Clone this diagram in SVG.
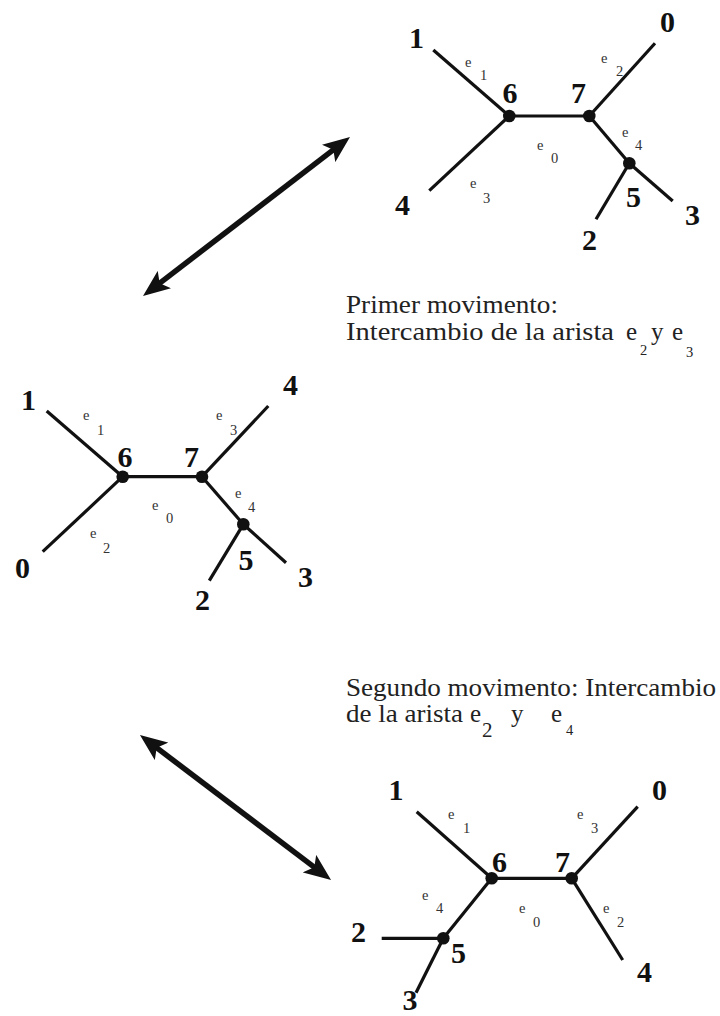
<svg xmlns="http://www.w3.org/2000/svg" width="720" height="1016" viewBox="0 0 720 1016">
<style>
.edge{stroke:#111;stroke-width:3.2;fill:none;stroke-linecap:butt}
.dot{fill:#111}
.num{font-family:"Liberation Serif","Times New Roman",Tinos,serif;font-weight:bold;font-size:30px;fill:#111;text-anchor:middle}
.el{font-family:"Liberation Serif","Times New Roman",Tinos,serif;font-size:14.5px;fill:#333}
.cap{font-family:"Liberation Serif","Times New Roman",Tinos,serif;font-size:25px;fill:#222}
.sub{font-family:"Liberation Serif","Times New Roman",Tinos,serif;font-size:14.5px;fill:#222}
.arr{stroke:#111;stroke-width:5.5;fill:none}
</style>
<defs>
<marker id="ah" markerUnits="userSpaceOnUse" markerWidth="27" markerHeight="22" viewBox="0 0 27 22" refX="12" refY="11" orient="auto-start-reverse">
<path d="M0,0 L27,11 L0,22 L6,11 Z" fill="#111"/>
</marker>
</defs>
<rect width="720" height="1016" fill="#fff"/>

<g id="connectors">
<!-- top tree -->
<line class="edge" x1="509.3" y1="116" x2="433.3" y2="50"/>
<line class="edge" x1="509.3" y1="116" x2="429.3" y2="190.7"/>
<line class="edge" x1="509.3" y1="116" x2="589.3" y2="116"/>
<line class="edge" x1="589.3" y1="116" x2="655" y2="43.3"/>
<line class="edge" x1="589.3" y1="116" x2="629.3" y2="163.3"/>
<line class="edge" x1="629.3" y1="163.3" x2="672.7" y2="201"/>
<line class="edge" x1="629.3" y1="163.3" x2="596" y2="219.3"/>
<!-- middle tree -->
<line class="edge" x1="122.7" y1="476.7" x2="46.7" y2="411"/>
<line class="edge" x1="122.7" y1="476.7" x2="42.7" y2="551.7"/>
<line class="edge" x1="122.7" y1="476.7" x2="202" y2="476.7"/>
<line class="edge" x1="202" y1="476.7" x2="268.3" y2="406"/>
<line class="edge" x1="202" y1="476.7" x2="243.3" y2="524.3"/>
<line class="edge" x1="243.3" y1="524.3" x2="286" y2="562.7"/>
<line class="edge" x1="243.3" y1="524.3" x2="209.3" y2="580.7"/>
<!-- bottom tree -->
<line class="edge" x1="491.7" y1="878.3" x2="416.7" y2="811.7"/>
<line class="edge" x1="491.7" y1="878.3" x2="571.7" y2="878.3"/>
<line class="edge" x1="571.7" y1="878.3" x2="637.7" y2="806.7"/>
<line class="edge" x1="571.7" y1="878.3" x2="622.7" y2="960"/>
<line class="edge" x1="491.7" y1="878.3" x2="443.3" y2="938.3"/>
<line class="edge" x1="443.3" y1="938.3" x2="381.7" y2="938.3"/>
<line class="edge" x1="443.3" y1="938.3" x2="416" y2="992.7"/>
<!-- move arrows -->
<line class="arr" x1="154.9" y1="286.9" x2="338.1" y2="146.1" marker-start="url(#ah)" marker-end="url(#ah)"/>
<line class="arr" x1="151.9" y1="744.1" x2="319.1" y2="870.9" marker-start="url(#ah)" marker-end="url(#ah)"/>
</g>

<!-- Top tree -->
<g id="tree-top">
<g id="top-n6"><circle class="dot" cx="509.3" cy="116" r="6.3"/><text class="num" x="510" y="103">6</text></g>
<g id="top-n7"><circle class="dot" cx="589.3" cy="116" r="6.3"/><text class="num" x="578.5" y="103">7</text></g>
<g id="top-n5"><circle class="dot" cx="629.3" cy="163.3" r="6.3"/><text class="num" x="633.5" y="207">5</text></g>
<g id="top-n1"><text class="num" x="416.5" y="48">1</text></g>
<g id="top-n0"><text class="num" x="667.5" y="32">0</text></g>
<g id="top-n4"><text class="num" x="402.5" y="215">4</text></g>
<g id="top-n3"><text class="num" x="692.5" y="225">3</text></g>
<g id="top-n2"><text class="num" x="589.5" y="250">2</text></g>
<g id="top-edge-labels">
<text class="el" x="465" y="67">e<tspan x="480" y="80">1</tspan></text>
<text class="el" x="601" y="63">e<tspan x="616" y="76">2</tspan></text>
<text class="el" x="622" y="137">e<tspan x="635" y="150">4</tspan></text>
<text class="el" x="537" y="150">e<tspan x="551" y="163">0</tspan></text>
<text class="el" x="470" y="188">e<tspan x="483" y="203">3</tspan></text>
</g>
</g>

<!-- Middle tree -->
<g id="tree-mid">
<g id="mid-n6"><circle class="dot" cx="122.7" cy="476.7" r="6.3"/><text class="num" x="125" y="467">6</text></g>
<g id="mid-n7"><circle class="dot" cx="202" cy="476.7" r="6.3"/><text class="num" x="191.5" y="467">7</text></g>
<g id="mid-n5"><circle class="dot" cx="243.3" cy="524.3" r="6.3"/><text class="num" x="246" y="570">5</text></g>
<g id="mid-n1"><text class="num" x="28.5" y="410">1</text></g>
<g id="mid-n0"><text class="num" x="22.5" y="578">0</text></g>
<g id="mid-n4"><text class="num" x="290.5" y="395">4</text></g>
<g id="mid-n3"><text class="num" x="305.5" y="587">3</text></g>
<g id="mid-n2"><text class="num" x="202.5" y="610">2</text></g>
<g id="mid-edge-labels">
<text class="el" x="83" y="420">e<tspan x="97" y="435">1</tspan></text>
<text class="el" x="216" y="420">e<tspan x="230" y="435">3</tspan></text>
<text class="el" x="235" y="498">e<tspan x="248" y="512">4</tspan></text>
<text class="el" x="152" y="510">e<tspan x="166" y="523">0</tspan></text>
<text class="el" x="90" y="538">e<tspan x="103" y="553">2</tspan></text>
</g>
</g>

<!-- Bottom tree -->
<g id="tree-bot">
<g id="bot-n6"><circle class="dot" cx="491.7" cy="878.3" r="6.3"/><text class="num" x="499.5" y="872">6</text></g>
<g id="bot-n7"><circle class="dot" cx="571.7" cy="878.3" r="6.3"/><text class="num" x="562.5" y="872">7</text></g>
<g id="bot-n5"><circle class="dot" cx="443.3" cy="938.3" r="6.3"/><text class="num" x="458.5" y="963">5</text></g>
<g id="bot-n1"><text class="num" x="396" y="800">1</text></g>
<g id="bot-n0"><text class="num" x="659.5" y="800">0</text></g>
<g id="bot-n2"><text class="num" x="358.5" y="942">2</text></g>
<g id="bot-n3"><text class="num" x="410" y="1010">3</text></g>
<g id="bot-n4"><text class="num" x="644.5" y="982">4</text></g>
<g id="bot-edge-labels">
<text class="el" x="448" y="819">e<tspan x="463" y="833">1</tspan></text>
<text class="el" x="577" y="819">e<tspan x="591" y="833">3</tspan></text>
<text class="el" x="422" y="900">e<tspan x="436" y="913">4</tspan></text>
<text class="el" x="519" y="913">e<tspan x="533" y="927">0</tspan></text>
<text class="el" x="603" y="913">e<tspan x="617" y="927">2</tspan></text>
</g>
</g>

<!-- Captions -->
<g id="caption-1">
<text class="cap" x="346" y="313" textLength="212" lengthAdjust="spacingAndGlyphs">Primer movimento:</text>
<text class="cap" x="346" y="340" textLength="268" lengthAdjust="spacingAndGlyphs">Intercambio de la arista</text>
<text class="cap" x="626" y="340">e</text><text class="sub" x="640" y="355">2</text>
<text class="cap" x="651" y="340">y</text>
<text class="cap" x="672" y="340">e</text><text class="sub" x="686" y="357">3</text>
</g>
<g id="caption-2">
<text class="cap" x="346" y="696" textLength="370" lengthAdjust="spacingAndGlyphs">Segundo movimento: Intercambio</text>
<text class="cap" x="346" y="722" textLength="117" lengthAdjust="spacingAndGlyphs">de la arista</text>
<text class="cap" x="470" y="722">e</text><text class="cap" x="482" y="737" style="font-size:21px">2</text>
<text class="cap" x="511" y="722">y</text>
<text class="cap" x="551" y="722">e</text><text class="sub" x="566" y="735">4</text>
</g>
</svg>
